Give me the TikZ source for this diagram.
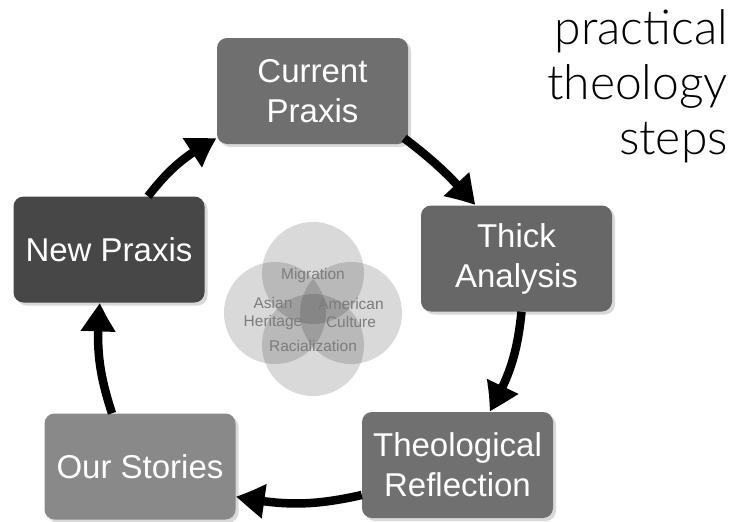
\documentclass[tikz,border=0pt]{standalone}
\usepackage{fontspec}
\setmainfont{Liberation Sans}
\newfontfamily\titlefont{Lato Light}
\usetikzlibrary{arrows.meta,shadows,bending}
\definecolor{cpc}{HTML}{6F6F6F}
\definecolor{tac}{HTML}{676767}
\definecolor{trc}{HTML}{707070}
\definecolor{osc}{HTML}{898989}
\definecolor{npc}{HTML}{474747}
\definecolor{venntext}{HTML}{7C7C7C}
\tikzset{
  stepbox/.style={rounded corners=10pt, minimum width=191pt, minimum height=106pt,
    inner sep=0pt, align=center, text=white,
    font=\fontsize{33}{40}\selectfont,
    drop shadow={shadow xshift=3pt, shadow yshift=-3pt, opacity=0.3}},
  cyclearrow/.style={line width=8.5pt, -{Triangle[length=30pt,width=32pt,bend]}, bend left=12},
  venncircle/.style={fill=black, fill opacity=0.15, draw=none},
  venntxt/.style={text=venntext, font=\fontsize{15.5}{18}\selectfont, inner sep=0pt, align=center},
  titletxt/.style={anchor=base east, inner sep=0pt, font=\titlefont\fontsize{48}{55}\selectfont}
}
\begin{document}
\begin{tikzpicture}[x=1pt,y=1pt]
\useasboundingbox (0,0) rectangle (732,-522);
% Venn circles
\fill[venncircle] (313,-273) circle (51);
\fill[venncircle] (313,-345) circle (51);
\fill[venncircle] (275,-313) circle (51);
\fill[venncircle] (351,-313) circle (51);
\node[venntxt] (mig) at (313,-275) {Migration};
\node[venntxt] (asi) at (273,-313) {Asian\\Heritage};
\node[venntxt] (ame) at (351,-313) {American\\Culture};
\node[venntxt] (rac) at (313,-346) {Racialization};
% boxes
\node[stepbox, fill=cpc] (CP) at (312.5,-91) {Current\\Praxis};
\node[stepbox, fill=tac] (TA) at (516.5,-258.5) {Thick\\Analysis};
\node[stepbox, fill=trc] (TR) at (457.5,-465) {Theological\\Reflection};
\node[stepbox, fill=osc] (OS) at (140,-466.5) {Our Stories};
\node[stepbox, fill=npc] (NP) at (109,-249.5) {New Praxis};
% arrows
\draw[cyclearrow, bend left=6] ([xshift=-4pt,yshift=6pt]CP.south east) to ([xshift=-41pt]TA.north);
\draw[cyclearrow] ([xshift=5pt]TA.south) to ([xshift=32pt]TR.north);
\draw[cyclearrow] ([yshift=-30pt]TR.west) to ([yshift=-30pt]OS.east);
\draw[cyclearrow] ([xshift=-28pt]OS.north) to ([xshift=-9pt]NP.south);
\draw[cyclearrow] ([xshift=39pt]NP.north) to ([yshift=6pt]CP.south west);
% title
\node[titletxt] (t1) at (728,-44) {practical};
\node[titletxt] (t2) at (728,-99) {theology};
\node[titletxt] (t3) at (728,-154) {steps};
\end{tikzpicture}
\end{document}
